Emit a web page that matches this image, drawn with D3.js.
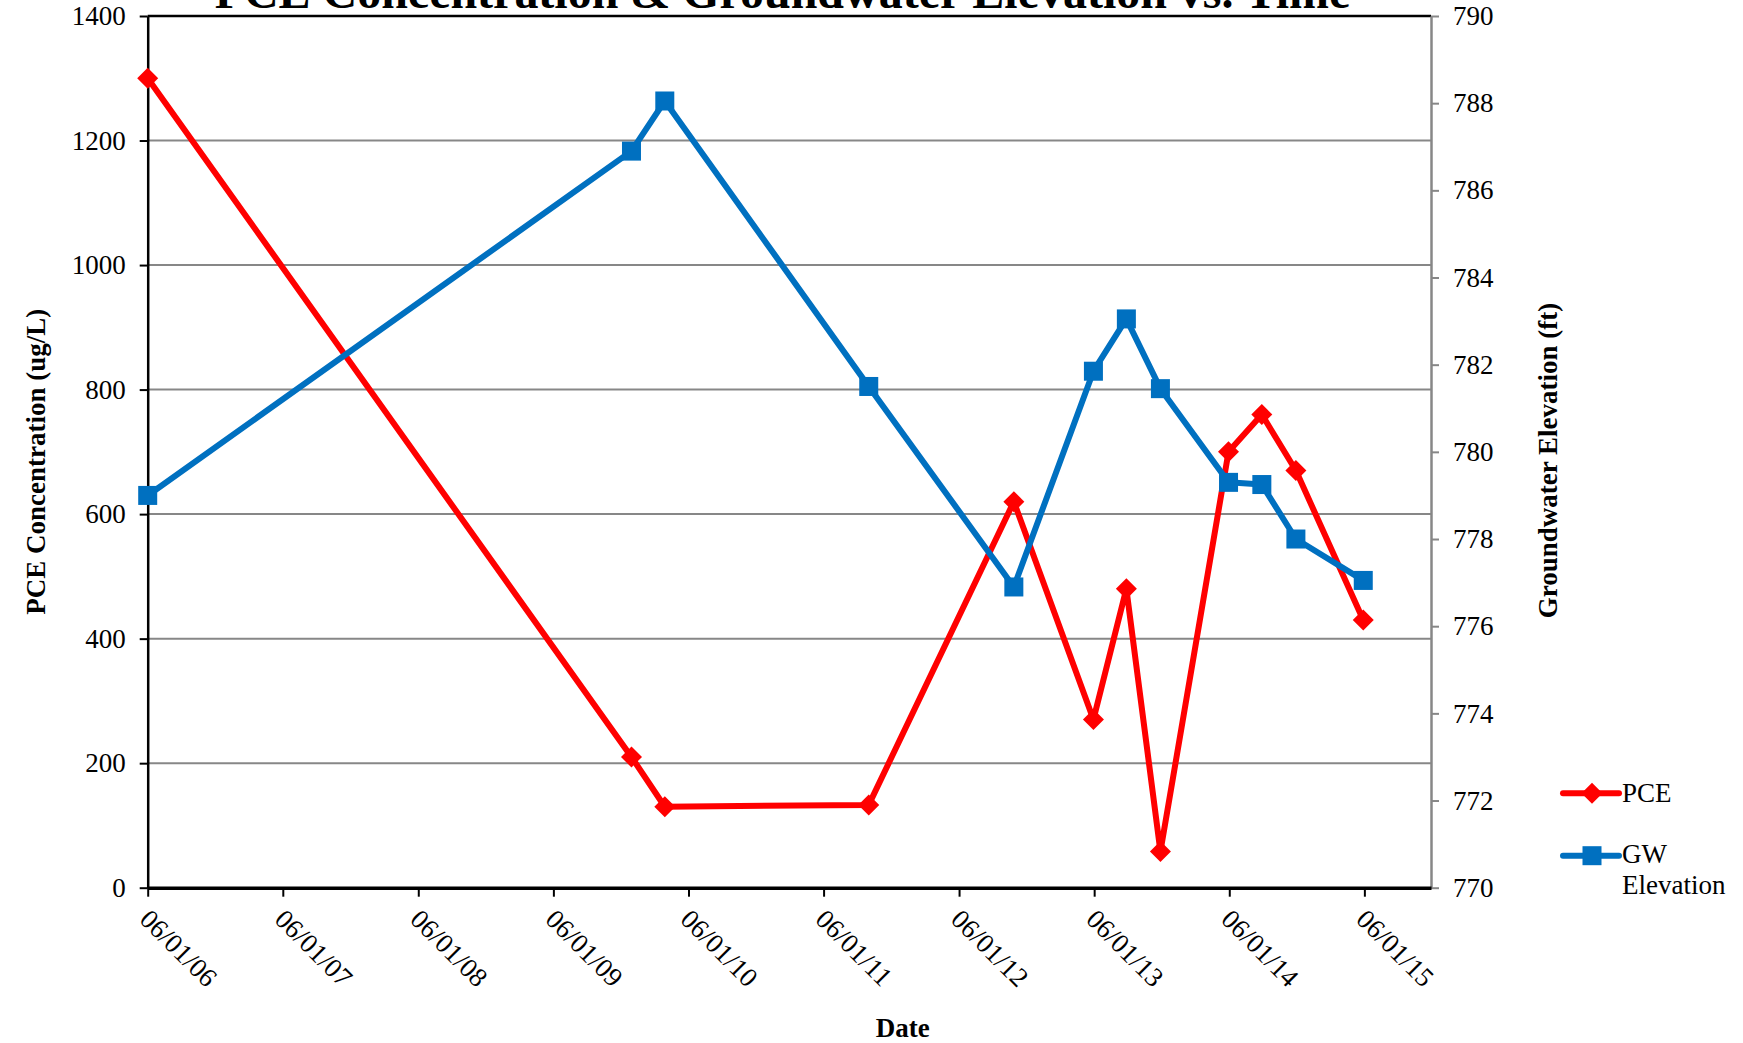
<!DOCTYPE html>
<html>
<head>
<meta charset="utf-8">
<script src="https://cdn.jsdelivr.net/npm/d3@7"></script>
<style>
  html, body { margin: 0; padding: 0; background: #fff; }
  svg { display: block; }
  svg text { font-family: "Liberation Serif", "Times New Roman", serif; }
</style>
</head>
<body>
<svg id="chart" width="1743" height="1043"></svg>
<script>
// Sampling dates (shared by both series)
const sampleDates = ["2006-06-01", "2009-12-29", "2010-03-29", "2011-10-01", "2012-10-27",
  "2013-05-30", "2013-08-27", "2013-11-27", "2014-05-30", "2014-08-28", "2014-11-28", "2015-05-29"];
// PCE concentration, ug/L
const pceValues = [1300, 210, 130, 133, 620, 270, 480, 58, 700, 760, 670, 430];
// Groundwater elevation, ft
const gwValues = [779.0, 786.9, 788.05, 781.5, 776.9, 781.85, 783.05, 781.45, 779.3, 779.25, 778.0, 777.05];

// Axis ticks
const xTickDates = ["2006-06-01", "2007-06-01", "2008-06-01", "2009-06-01", "2010-06-01",
  "2011-06-01", "2012-06-01", "2013-06-01", "2014-06-01", "2015-06-01"];
const xTickLabels = ["06/01/06", "06/01/07", "06/01/08", "06/01/09", "06/01/10",
  "06/01/11", "06/01/12", "06/01/13", "06/01/14", "06/01/15"];
const pceTicks = [0, 200, 400, 600, 800, 1000, 1200, 1400];
const gwTicks = [770, 772, 774, 776, 778, 780, 782, 784, 786, 788, 790];
const xDomain = ["2006-06-01", "2015-11-28"];

const seriesNames = ["PCE", "GW Elevation"];
const RED = "#FF0000", BLUE = "#0070C0", GRID = "#878787";
const SERIF = '"Liberation Serif", "Times New Roman", serif';

const parse = d3.utcParse("%Y-%m-%d");
const svg = d3.select("#chart");
const FONT = 27;

const L = 147.7, R = 1431, T = 16, B = 887.7;
const x = d3.scaleUtc().domain(xDomain.map(parse)).range([L, R]);
const yL = d3.scaleLinear().domain([0, 1400]).range([B, T]);
const yR = d3.scaleLinear().domain([770, 790]).range([B, T]);

// Horizontal gridlines
svg.append("g").selectAll("line")
  .data(pceTicks.filter(v => v > 0 && v < 1400))
  .join("line")
  .attr("x1", L).attr("x2", R)
  .attr("y1", d => yL(d)).attr("y2", d => yL(d))
  .attr("stroke", GRID).attr("stroke-width", 2);

// Top border of plot area
svg.append("line").attr("x1", L).attr("x2", R).attr("y1", T).attr("y2", T)
  .attr("stroke", "#000").attr("stroke-width", 2.5);

function styleTicks(g) {
  g.attr("font-family", SERIF).attr("font-size", FONT);
  g.selectAll(".tick text").attr("fill", "#000")
    .style("font-family", SERIF).style("font-size", FONT + "px");
}

// Left axis
const gL = svg.append("g").attr("transform", `translate(${L},0)`)
  .call(d3.axisLeft(yL).tickValues(pceTicks).tickFormat(d3.format("d"))
    .tickSize(8).tickSizeOuter(0).tickPadding(14));
gL.select(".domain").attr("stroke", "#000").attr("stroke-width", 2.5);
gL.selectAll(".tick line").attr("stroke", "#000").attr("stroke-width", 2);
styleTicks(gL);

// Right axis
const gR = svg.append("g").attr("transform", `translate(${R},0)`)
  .call(d3.axisRight(yR).tickValues(gwTicks).tickFormat(d3.format("d"))
    .tickSize(8).tickSizeOuter(0).tickPadding(14));
gR.select(".domain").attr("stroke", GRID).attr("stroke-width", 2.5);
gR.selectAll(".tick line").attr("stroke", GRID).attr("stroke-width", 2);
styleTicks(gR);

// Bottom (date) axis
const gB = svg.append("g").attr("transform", `translate(0,${B})`)
  .call(d3.axisBottom(x).tickValues(xTickDates.map(parse)).tickSize(9).tickSizeOuter(0)
    .tickFormat((d, i) => xTickLabels[i]));
gB.select(".domain").attr("stroke", "#000").attr("stroke-width", 3.5);
gB.selectAll(".tick line").attr("stroke", "#000").attr("stroke-width", 2);
styleTicks(gB);
gB.selectAll(".tick text")
  .attr("x", 0).attr("y", 0).attr("dy", null)
  .attr("text-anchor", "start")
  .attr("transform", "translate(-10,33) rotate(45)");

// Data rows
const pceData = sampleDates.map((d, i) => ({ date: parse(d), v: pceValues[i] }));
const gwData = sampleDates.map((d, i) => ({ date: parse(d), v: gwValues[i] }));

const diamond = r => `M0,${-r}L${r},0L0,${r}L${-r},0Z`;

// PCE series
svg.append("path").datum(pceData)
  .attr("fill", "none").attr("stroke", RED).attr("stroke-width", 6)
  .attr("stroke-linejoin", "round")
  .attr("d", d3.line().x(d => x(d.date)).y(d => yL(d.v)));
svg.append("g").selectAll("path").data(pceData).join("path")
  .attr("d", diamond(10.5)).attr("fill", RED)
  .attr("transform", d => `translate(${x(d.date)},${yL(d.v)})`);

// Groundwater series (secondary axis)
svg.append("path").datum(gwData)
  .attr("fill", "none").attr("stroke", BLUE).attr("stroke-width", 6)
  .attr("stroke-linejoin", "round")
  .attr("d", d3.line().x(d => x(d.date)).y(d => yR(d.v)));
svg.append("g").selectAll("rect").data(gwData).join("rect")
  .attr("x", d => x(d.date) - 9.5).attr("y", d => yR(d.v) - 9.5)
  .attr("width", 19).attr("height", 19).attr("fill", BLUE);

// Title
const title = svg.append("text")
  .attr("x", 782.5).attr("y", 7.5).attr("text-anchor", "middle")
  .attr("font-weight", "bold").attr("font-size", 48)
  .text("PCE Concentration & Groundwater Elevation vs. Time");
const tLen = title.node().getComputedTextLength();
title.attr("font-size", 48 * 1136 / tLen);

// Axis titles
svg.append("text").attr("transform", "translate(45,461.7) rotate(-90)")
  .attr("text-anchor", "middle").attr("font-weight", "bold").attr("font-size", FONT)
  .text("PCE Concentration (ug/L)");
svg.append("text").attr("transform", "translate(1557,460.5) rotate(-90)")
  .attr("text-anchor", "middle").attr("font-weight", "bold").attr("font-size", FONT)
  .text("Groundwater Elevation (ft)");
svg.append("text").attr("x", 902.8).attr("y", 1037)
  .attr("text-anchor", "middle").attr("font-weight", "bold").attr("font-size", FONT)
  .text("Date");

// Legend
const lg = svg.append("g");
const legY = [793.3, 855.7];
lg.append("line").attr("x1", 1563).attr("x2", 1619).attr("y1", legY[0]).attr("y2", legY[0])
  .attr("stroke", RED).attr("stroke-width", 6).attr("stroke-linecap", "round");
lg.append("path").attr("d", diamond(10.5)).attr("fill", RED)
  .attr("transform", `translate(1592,${legY[0]})`);
lg.append("text").attr("x", 1622).attr("y", 801.7).attr("font-size", FONT).text(seriesNames[0]);

lg.append("line").attr("x1", 1563).attr("x2", 1619).attr("y1", legY[1]).attr("y2", legY[1])
  .attr("stroke", BLUE).attr("stroke-width", 6).attr("stroke-linecap", "round");
lg.append("rect").attr("x", 1592 - 9.5).attr("y", legY[1] - 9.5).attr("width", 19).attr("height", 19)
  .attr("fill", BLUE);
const gwLabel = seriesNames[1].split(" ");
lg.append("text").attr("x", 1622).attr("y", 863.3).attr("font-size", FONT).text(gwLabel[0]);
lg.append("text").attr("x", 1622).attr("y", 894).attr("font-size", FONT).text(gwLabel[1]);
</script>
</body>
</html>
